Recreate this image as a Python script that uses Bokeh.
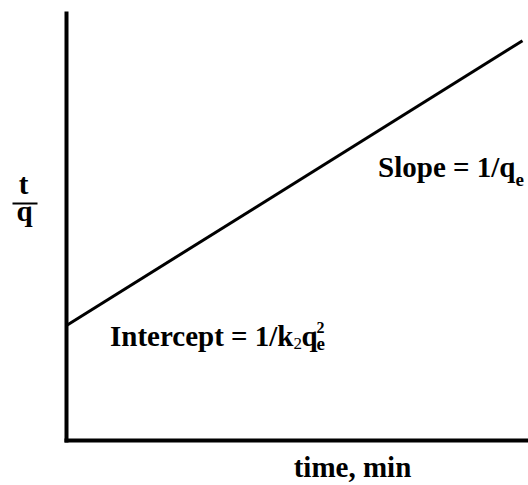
from bokeh.plotting import figure
from bokeh.models import Range1d, Label, BoxAnnotation, FixedTicker
from bokeh.embed import file_html
from bokeh.resources import INLINE

# Conceptual pseudo-second-order kinetics plot: t/q vs time
time = [0, 9.87]
t_over_q = [2.68, 9.32]

W, H = 528, 485
X0, Y0 = 66, 440          # pixel position of data origin
PX, PY = 46.2, 42.9       # pixels per data unit
FONT = "Liberation Serif"

p = figure(width=W, height=H, output_backend="svg", toolbar_location=None,
           x_range=Range1d(-X0 / PX, (W - X0) / PX),
           y_range=Range1d(-(H - Y0) / PY, Y0 / PY),
           min_border=0)
p.outline_line_color = None
p.background_fill_color = "white"
p.border_fill_color = "white"
p.grid.visible = False

for ax in (p.xaxis, p.yaxis):
    ax.ticker = FixedTicker(ticks=[])
    ax.fixed_location = 0
    ax.axis_line_width = 4
    ax.axis_line_color = "black"
    ax.axis_line_cap = "square"
    ax.major_tick_line_color = None
    ax.minor_tick_line_color = None
    ax.major_tick_out = 0
    ax.major_tick_in = 0
    ax.major_label_standoff = 0
p.xaxis.bounds = (0, 10)
p.yaxis.bounds = (0, 9.95)

p.line(time, t_over_q, line_width=3, line_color="black")


def dx(cx):
    return (cx - X0) / PX


def dy(cy):
    return (Y0 - cy) / PY


def lab(text, cx, cy, size, align="left", weight="bold"):
    # cy is the wanted baseline; compensate the renderer's baseline shift
    p.add_layout(Label(x=dx(cx), y=dy(cy - 0.38 * size),
                       text=text, text_font=FONT, text_font_size=f"{size}px",
                       text_font_style=weight, text_color="black",
                       text_align=align, text_baseline="alphabetic"))

# y label as fraction t / q
lab("t", 23, 195, 29, "center")
lab("q", 24, 222, 29, "center")
p.add_layout(BoxAnnotation(left=dx(12), right=dx(37), bottom=dy(204), top=dy(202),
                           fill_color="black", fill_alpha=1, line_color=None))

# slope
lab("Slope = 1/q", 515, 178, 29, "right")
lab("e", 515, 186, 19)

# intercept
lab("Intercept = 1/k", 293, 347, 29, "right")
lab("2", 293, 349, 17, weight="normal")
lab("q", 301, 347, 29)
lab("2", 316, 333, 16)
lab("e", 316, 350, 19)

# x label
lab("time, min", 352, 478, 29, "center")

open("out.html", "w").write(file_html(p, INLINE))
